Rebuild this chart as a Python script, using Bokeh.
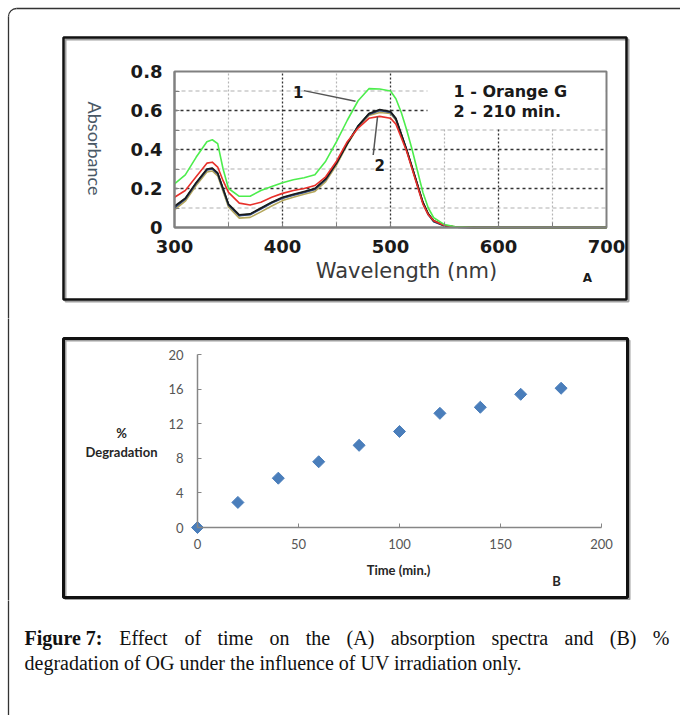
import math
from bokeh.plotting import figure
from bokeh.models import Range1d, FixedTicker
from bokeh.layouts import column
from bokeh.embed import file_html
from bokeh.resources import INLINE
from bokeh.core.properties import value

# ---------------- data : panel A (absorption spectra) ----------------
wavelength = [300, 310, 320, 330, 335, 340, 345, 350, 360, 370, 380, 390, 400, 410, 420, 430,
              440, 450, 460, 470, 480, 490, 500, 505, 510, 515, 520, 525, 530, 535, 540, 550,
              560, 580, 600, 650, 700]
abs_orange_g = [0.224, 0.27, 0.36, 0.44, 0.45, 0.43, 0.30, 0.20, 0.16, 0.16, 0.19, 0.21, 0.23, 0.245, 0.255, 0.27,
                0.34, 0.44, 0.55, 0.65, 0.712, 0.71, 0.70, 0.66, 0.59, 0.50, 0.40, 0.29, 0.18, 0.10, 0.05, 0.015,
                0.004, 0.0, 0.0, 0.0, 0.0]
abs_red = [0.155, 0.19, 0.26, 0.33, 0.335, 0.31, 0.24, 0.18, 0.125, 0.115, 0.13, 0.155, 0.175, 0.19, 0.20, 0.215,
           0.26, 0.34, 0.44, 0.51, 0.56, 0.57, 0.56, 0.53, 0.46, 0.39, 0.30, 0.21, 0.12, 0.065, 0.035, 0.01,
           0.003, 0.0, 0.0, 0.0, 0.0]
abs_black = [0.11, 0.15, 0.23, 0.30, 0.305, 0.28, 0.20, 0.12, 0.065, 0.07, 0.10, 0.13, 0.155, 0.17, 0.185, 0.20,
             0.25, 0.33, 0.43, 0.52, 0.585, 0.605, 0.595, 0.56, 0.48, 0.40, 0.31, 0.22, 0.13, 0.07, 0.035, 0.01,
             0.002, 0.0, 0.0, 0.0, 0.0]
abs_navy = [0.10, 0.145, 0.225, 0.295, 0.30, 0.275, 0.195, 0.115, 0.06, 0.065, 0.095, 0.125, 0.15, 0.165, 0.18, 0.195,
            0.245, 0.33, 0.43, 0.52, 0.58, 0.60, 0.59, 0.555, 0.475, 0.395, 0.305, 0.215, 0.125, 0.065, 0.03, 0.008,
            0.002, 0.0, 0.0, 0.0, 0.0]
abs_teal = [0.105, 0.148, 0.228, 0.298, 0.302, 0.278, 0.198, 0.118, 0.062, 0.068, 0.098, 0.128, 0.152, 0.168, 0.182, 0.198,
            0.248, 0.332, 0.432, 0.522, 0.583, 0.602, 0.592, 0.558, 0.478, 0.398, 0.308, 0.218, 0.128, 0.068, 0.032, 0.009,
            0.002, 0.0, 0.0, 0.0, 0.0]
abs_olive = [0.09, 0.135, 0.215, 0.285, 0.29, 0.265, 0.185, 0.105, 0.048, 0.052, 0.08, 0.11, 0.138, 0.155, 0.17, 0.185,
             0.235, 0.32, 0.425, 0.515, 0.575, 0.59, 0.585, 0.55, 0.475, 0.395, 0.31, 0.22, 0.13, 0.07, 0.035, 0.01,
             0.002, 0.0, 0.0, 0.0, 0.0]

x_ticks_a = [300, 400, 500, 600, 700]
x_minor_a = [350, 450, 550, 650]
y_ticks_a = [0, 0.2, 0.4, 0.6, 0.8]
y_tick_labels_a = ["0", "0.2", "0.4", "0.6", "0.8"]
y_minor_a = [0.1, 0.3, 0.5, 0.7]

legend_lines = ["1 - Orange G", "2 -  210 min."]
pointer_labels = ["1", "2"]
pointer_text_x = [414.5, 490.0]
pointer_text_y = [0.697, 0.32]
pointer_x0 = [419.8, 484.0]
pointer_y0 = [0.702, 0.372]
pointer_x1 = [467.6, 488.0]
pointer_y1 = [0.647, 0.569]

# ---------------- data : panel B (% degradation) ----------------
time_min = [0, 20, 40, 60, 80, 100, 120, 140, 160, 180]
degradation = [0, 2.9, 5.7, 7.6, 9.5, 11.1, 13.2, 13.9, 15.4, 16.1]
x_ticks_b = [0, 50, 100, 150, 200]
y_ticks_b = [0, 4, 8, 12, 16, 20]

caption_bold = "Figure 7:"
caption_words_1 = ["Effect", "of", "time", "on", "the", "(A)", "absorption", "spectra", "and", "(B)", "%"]
caption_line_2 = "degradation of OG under the influence of UV irradiation only."

W = 680
FRAME_COL = "#333333"


def no_align(p):
    try:
        p.frame_align = False
    except Exception:
        pass


# ======================= Panel A =======================
HA = 318
# canvas pixel positions of the plot area (x 300..700, y 0..0.8)
AL, AR, AT, AB = 174, 606, 71, 227
sx_a = (x_ticks_a[-1] - x_ticks_a[0]) / (AR - AL)
sy_a = (y_ticks_a[-1] - y_ticks_a[0]) / (AB - AT)


def ax(px):
    return x_ticks_a[0] + (px - AL) * sx_a


def ay(py):
    return y_ticks_a[0] + (AB - py) * sy_a


pA = figure(width=W, height=HA, x_range=Range1d(ax(0), ax(W)), y_range=Range1d(ay(HA), ay(0)),
            output_backend="svg", toolbar_location=None, min_border=0,
            min_border_left=0, min_border_right=0, min_border_top=0, min_border_bottom=0,
            background_fill_color="white", border_fill_color="white")
no_align(pA)
pA.grid.visible = False
pA.outline_line_color = None

# grid lines (minor then major)
pA.segment(x0=x_minor_a, y0=[y_ticks_a[0]] * len(x_minor_a), x1=x_minor_a, y1=[y_ticks_a[-1]] * len(x_minor_a),
           line_color="#b5b5b5", line_dash="2 2", line_width=1.2)
pA.segment(x0=[x_ticks_a[0]] * len(y_minor_a), y0=y_minor_a, x1=[x_ticks_a[-1]] * len(y_minor_a), y1=y_minor_a,
           line_color="#b0b0b0", line_dash="4 3", line_width=1.2)
pA.segment(x0=x_ticks_a[1:-1], y0=[y_ticks_a[0]] * 3, x1=x_ticks_a[1:-1], y1=[y_ticks_a[-1]] * 3,
           line_color="#333333", line_dash="2 2", line_width=1.3)
pA.segment(x0=[x_ticks_a[0]] * 3, y0=y_ticks_a[1:-1], x1=[x_ticks_a[-1]] * 3, y1=y_ticks_a[1:-1],
           line_color="#333333", line_dash="3 3", line_width=1.6)

# white legend background
pA.quad(left=[ax(427)], right=[ax(AR - 1)], bottom=[0.505], top=[ay(AT + 1)], fill_color="white", line_color=None)

# plot-area outline
pA.quad(left=[x_ticks_a[0]], right=[x_ticks_a[-1]], bottom=[y_ticks_a[0]], top=[y_ticks_a[-1]],
        fill_color=None, line_color="#808080", line_width=2)

series = [
    (abs_olive, "#b4a65a"),
    (abs_teal, "#2f7a5a"),
    (abs_navy, "#2b3f72"),
    (abs_black, "#1a1a1a"),
    (abs_red, "#e8302a"),
    (abs_orange_g, "#4ded4d"),
]
for ys, col in series:
    pA.line(wavelength, ys, line_color=col, line_width=1.6, line_join="round")

# axes placed on the plot-area edges
pA.xaxis.ticker = FixedTicker(ticks=x_ticks_a, minor_ticks=x_minor_a)
pA.yaxis.ticker = FixedTicker(ticks=y_ticks_a, minor_ticks=y_minor_a)
pA.xaxis.fixed_location = y_ticks_a[0]
pA.yaxis.fixed_location = x_ticks_a[0]
pA.xaxis.bounds = (x_ticks_a[0], x_ticks_a[-1])
pA.yaxis.bounds = (y_ticks_a[0], y_ticks_a[-1])
pA.yaxis.major_label_overrides = dict(zip(y_ticks_a, y_tick_labels_a))
for axis in (pA.xaxis, pA.yaxis):
    axis.axis_line_color = "#808080"
    axis.axis_line_width = 2
    axis.major_tick_in = 5
    axis.major_tick_out = 0
    axis.minor_tick_in = 5
    axis.minor_tick_out = 0
    axis.major_tick_line_color = "#808080"
    axis.minor_tick_line_color = "#808080"
    axis.major_label_text_font = "DejaVu Sans"
    axis.major_label_text_font_style = "bold"
    axis.major_label_text_font_size = "18px"
    axis.major_label_text_color = "#1a1a1a"
    axis.major_label_standoff = 12

pA.segment(x0=pointer_x0, y0=pointer_y0, x1=pointer_x1, y1=pointer_y1, line_color="#555555", line_width=1.5)
pA.text(x=pointer_text_x, y=pointer_text_y, text=pointer_labels, text_font=value("DejaVu Sans"),
        text_font_style="bold", text_font_size="15px", text_color="#1a1a1a",
        text_align="center", text_baseline="middle")
pA.text(x=[ax(453)] * 2, y=[ay(91), ay(111)], text=legend_lines, text_font=value("DejaVu Sans"),
        text_font_style="bold", text_font_size="16px", text_color="#1a1a1a",
        text_align="left", text_baseline="middle")
pA.text(x=[ax(406)], y=[ay(270)], text=["Wavelength (nm)"], text_font=value("DejaVu Sans"),
        text_font_size="21px", text_color="#3a3a3a", text_align="center", text_baseline="middle")
pA.text(x=[ax(94)], y=[ay(148)], text=["Absorbance"], angle=-math.pi / 2, text_font=value("Lato"),
        text_font_size="18px", text_color="#4a5866", text_align="center", text_baseline="middle")
pA.text(x=[ax(587)], y=[ay(277)], text=["A"], text_font=value("DejaVu Sans"), text_font_style="bold",
        text_font_size="12px", text_color="#1a1a1a", text_align="center", text_baseline="middle")

# page frame (top + left edge with rounded corner) and panel box
pA.segment(x0=[ax(16), ax(8)], y0=[ay(8), ay(16)], x1=[ax(W + 5), ax(8)], y1=[ay(8), ay(HA + 5)],
           line_color=FRAME_COL, line_width=1.3)
pA.arc(x=[ax(16)], y=[ay(16)], radius=8, radius_units="screen", start_angle=math.pi / 2, end_angle=math.pi,
       line_color=FRAME_COL, line_width=1.3)
pA.quad(left=[ax(65)], right=[ax(628)], top=[ay(39)], bottom=[ay(301)], fill_color=None,
        line_color="#a0a0a0", line_width=2)
pA.quad(left=[ax(63)], right=[ax(626)], top=[ay(37)], bottom=[ay(299)], fill_color=None,
        line_color="#111111", line_width=2.5)

# ======================= Panel B =======================
HB = 282
OB = 318  # canvas offset of this panel in the page
# canvas pixel positions (page coords) of x=0, x=200, y=0, y=20
BX0, BX1, BY0, BY1 = 197, 601, 527 - OB, 354 - OB
sx_b = (x_ticks_b[-1] - x_ticks_b[0]) / (BX1 - BX0)
sy_b = (y_ticks_b[-1] - y_ticks_b[0]) / (BY0 - BY1)


def bx(px):
    return x_ticks_b[0] + (px - BX0) * sx_b


def by(py):
    return y_ticks_b[0] + (BY0 - (py - OB)) * sy_b


pB = figure(width=W, height=HB, x_range=Range1d(bx(0), bx(W)), y_range=Range1d(by(OB + HB), by(OB)),
            output_backend="svg", toolbar_location=None, min_border=0,
            min_border_left=0, min_border_right=0, min_border_top=0, min_border_bottom=0,
            background_fill_color="white", border_fill_color="white")
no_align(pB)
pB.grid.visible = False
pB.outline_line_color = None
pB.xaxis.ticker = FixedTicker(ticks=x_ticks_b)
pB.yaxis.ticker = FixedTicker(ticks=y_ticks_b)
pB.xaxis.fixed_location = y_ticks_b[0]
pB.yaxis.fixed_location = x_ticks_b[0]
pB.xaxis.bounds = (x_ticks_b[0], x_ticks_b[-1])
pB.yaxis.bounds = (y_ticks_b[0], y_ticks_b[-1])
for axis in (pB.xaxis, pB.yaxis):
    axis.axis_line_color = "#868686"
    axis.axis_line_width = 1.5
    axis.major_tick_in = 4
    axis.major_tick_out = 0
    axis.minor_tick_line_color = None
    axis.major_tick_line_color = "#868686"
    axis.major_label_text_font = "Lato"
    axis.major_label_text_font_size = "13px"
    axis.major_label_text_color = "#555555"
pB.xaxis.major_label_standoff = 11
pB.yaxis.major_label_standoff = 14

pB.scatter(time_min, degradation, marker="square", angle=math.pi / 4, size=8.5,
           fill_color="#4a7ebb", line_color="#4a7ebb")

pB.text(x=[bx(121), bx(121), bx(398), bx(556)], y=[by(432), by(451), by(569), by(580)],
        text=["%", "Degradation", "Time (min.)", "B"], text_font=value("Lato"), text_font_style="bold",
        text_font_size="13px", text_color="#262626", text_align="center", text_baseline="middle")

pB.segment(x0=[bx(8)], y0=[by(OB - 5)], x1=[bx(8)], y1=[by(OB + HB + 5)], line_color=FRAME_COL, line_width=1.3)
pB.quad(left=[bx(65)], right=[bx(629)], top=[by(340)], bottom=[by(599)], fill_color=None,
        line_color="#a0a0a0", line_width=2)
pB.quad(left=[bx(63)], right=[bx(627)], top=[by(338)], bottom=[by(597)], fill_color=None,
        line_color="#111111", line_width=3)

# ======================= Caption =======================
HC = 115
CAP_SIZE = 20
CAP_LEFT, CAP_RIGHT = 24, 669
# Times-metric advance widths (per 1000 em) used to justify the first caption line
TIMES_REG = {" ": 250, "(": 333, ")": 333, "%": 833, "A": 722, "B": 667, "E": 611, "a": 444, "b": 500,
             "c": 444, "d": 500, "e": 444, "f": 333, "h": 500, "i": 278, "m": 778, "n": 500, "o": 500,
             "p": 500, "r": 333, "s": 389, "t": 278}
TIMES_BOLD = {" ": 250, "F": 611, "i": 278, "g": 500, "u": 556, "r": 444, "e": 444, "7": 500, ":": 333}


def text_width(s, table):
    return sum(table.get(ch, 500) for ch in s) * CAP_SIZE / 1000.0


widths = [text_width(caption_bold, TIMES_BOLD)] + [text_width(w, TIMES_REG) for w in caption_words_1]
gap = (CAP_RIGHT - CAP_LEFT - sum(widths)) / (len(widths) - 1)
word_x = []
cursor = CAP_LEFT
for wdt in widths:
    word_x.append(cursor)
    cursor += wdt + gap

pC = figure(width=W, height=HC, x_range=Range1d(0, W), y_range=Range1d(HC, 0),
            output_backend="svg", toolbar_location=None, x_axis_type=None, y_axis_type=None,
            min_border=0, min_border_left=0, min_border_right=0, min_border_top=0, min_border_bottom=0,
            background_fill_color="white", border_fill_color="white")
no_align(pC)
pC.grid.visible = False
pC.outline_line_color = None
pC.segment(x0=[8], y0=[-5], x1=[8], y1=[HC + 5], line_color=FRAME_COL, line_width=1.3)
pC.text(x=word_x[:1], y=[37], text=[caption_bold], text_font=value("Liberation Serif"), text_font_style="bold",
        text_font_size=f"{CAP_SIZE}px", text_color="#111111", text_baseline="alphabetic", text_align="left")
pC.text(x=word_x[1:], y=[37] * len(caption_words_1), text=caption_words_1,
        text_font=value("Liberation Serif"), text_font_size=f"{CAP_SIZE}px", text_color="#111111",
        text_baseline="alphabetic", text_align="left")
pC.text(x=[CAP_LEFT], y=[62], text=[caption_line_2], text_font=value("Liberation Serif"),
        text_font_size=f"{CAP_SIZE}px", text_color="#111111", text_baseline="alphabetic", text_align="left")

layout = column(pA, pB, pC, spacing=0)
open("out.html", "w").write(file_html(layout, INLINE))
